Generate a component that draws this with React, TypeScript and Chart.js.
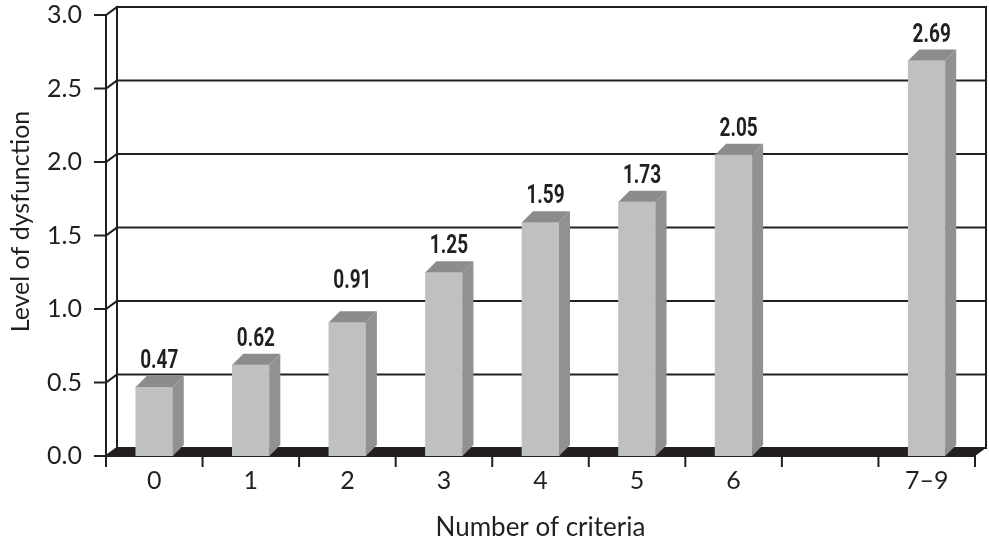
import { useEffect, useRef } from "react";
import { Chart, registerables } from "chart.js";

Chart.register(...registerables);

// Mean level of dysfunction by number of criteria met
const categories = ["0", "1", "2", "3", "4", "5", "6", "", "7–9"];
const dysfunction: (number | null)[] = [0.47, 0.62, 0.91, 1.25, 1.59, 1.73, 2.05, null, 2.69];
const yTickValues = [0, 0.5, 1, 1.5, 2, 2.5, 3];
const yTitle = "Level of dysfunction";
const xTitle = "Number of criteria";

const INK = "#231f20";
const FRONT = "#bfc0c2";
const SIDE = "#909193";
const TOP = "#8b8c8e";

// depth offsets of the box walls and of each bar
const WALL_DX = 11;
const WALL_DY = -8;
const BAR_DX = 11;
const BAR_DY = -11;

const LABEL_GAP = 19; // value label baseline above the bar's value
const LABEL_H = 18; // digit height of the value labels

const line = (ctx: CanvasRenderingContext2D, x1: number, y1: number, x2: number, y2: number) => {
  ctx.beginPath();
  ctx.moveTo(x1, y1);
  ctx.lineTo(x2, y2);
  ctx.stroke();
};

const poly = (ctx: CanvasRenderingContext2D, pts: number[][], fill: string) => {
  ctx.beginPath();
  ctx.moveTo(pts[0][0], pts[0][1]);
  for (let i = 1; i < pts.length; i++) ctx.lineTo(pts[i][0], pts[i][1]);
  ctx.closePath();
  ctx.fillStyle = fill;
  ctx.fill();
};

const box3d = {
  id: "box3d",
  beforeDatasetsDraw(chart: any) {
    const { ctx, chartArea: a, scales } = chart;
    const ys = scales.y;
    const xs = scales.x;
    const y0 = ys.getPixelForValue(0);
    const yMax = ys.getPixelForValue(yTickValues[yTickValues.length - 1]);
    ctx.save();
    ctx.strokeStyle = INK;
    ctx.lineWidth = 2;
    ctx.lineCap = "square";

    // back-wall gridlines, left-wall connectors and tick marks
    yTickValues.forEach((v) => {
      const py = ys.getPixelForValue(v);
      line(ctx, a.left + WALL_DX, py + WALL_DY, a.right + WALL_DX, py + WALL_DY);
      line(ctx, a.left, py, a.left + WALL_DX, py + WALL_DY);
      line(ctx, a.left - 11, py, a.left, py);
    });

    // vertical edges of the box
    line(ctx, a.left, yMax, a.left, y0 + 10);
    line(ctx, a.left + WALL_DX, yMax + WALL_DY, a.left + WALL_DX, y0 + WALL_DY);
    line(ctx, a.right + WALL_DX, yMax + WALL_DY, a.right + WALL_DX, y0 + WALL_DY);

    // floor
    poly(
      ctx,
      [
        [a.left, y0],
        [a.right, y0],
        [a.right + WALL_DX, y0 + WALL_DY],
        [a.left + WALL_DX, y0 + WALL_DY],
      ],
      INK
    );
    line(ctx, a.left, y0, a.right, y0);

    // category boundary ticks below the floor
    for (let i = 0; i <= categories.length; i++) {
      const px = xs.getPixelForValue(i - 0.5);
      line(ctx, px, y0, px, y0 + 10);
    }
    ctx.restore();
  },
  afterDatasetsDraw(chart: any) {
    const { ctx, scales, chartArea: a } = chart;
    const ys = scales.y;
    const meta = chart.getDatasetMeta(0);
    const gridBack = yTickValues.map((v) => ys.getPixelForValue(v) + WALL_DY);
    ctx.save();
    meta.data.forEach((el: any, i: number) => {
      const v = dysfunction[i];
      if (v === null || v === undefined) return;
      const { x, y, base, width } = el.getProps(["x", "y", "base", "width"], true);
      const xL = x - width / 2;
      const xR = x + width / 2;
      // side face
      poly(
        ctx,
        [
          [xR, y],
          [xR + BAR_DX, y + BAR_DY],
          [xR + BAR_DX, base + BAR_DY],
          [xR, base],
        ],
        SIDE
      );
      // top face
      poly(
        ctx,
        [
          [xL, y],
          [xL + BAR_DX, y + BAR_DY],
          [xR + BAR_DX, y + BAR_DY],
          [xR, y],
        ],
        TOP
      );
      // value label, condensed bold; lifted clear of a gridline it would cross
      let by = ys.getPixelForValue(v) - LABEL_GAP;
      gridBack.forEach((gy) => {
        if (gy > by - LABEL_H - 3 && gy < by + 3) by = gy - 13;
      });
      ctx.save();
      ctx.translate(x + 5, by);
      ctx.scale(0.76, 1);
      ctx.font = "bold 25px Roboto";
      ctx.fillStyle = INK;
      ctx.textAlign = "center";
      ctx.textBaseline = "alphabetic";
      ctx.fillText(v.toFixed(2), 0, 0);
      ctx.restore();
    });

    // y-axis title, rotated, a little above the middle of the axis
    ctx.save();
    ctx.translate(21, (a.top + a.bottom) / 2 - 14);
    ctx.rotate(-Math.PI / 2);
    ctx.font = "25px Lato";
    ctx.fillStyle = INK;
    ctx.textAlign = "center";
    ctx.textBaseline = "middle";
    ctx.fillText(yTitle, 0, 0);
    ctx.restore();

    ctx.restore();
  },
};

export default function App() {
  const canvasRef = useRef<HTMLCanvasElement | null>(null);

  useEffect(() => {
    if (!canvasRef.current) return;
    const chart = new Chart(canvasRef.current, {
      type: "bar",
      data: {
        labels: categories,
        datasets: [
          {
            data: dysfunction,
            backgroundColor: FRONT,
            borderWidth: 0,
            barThickness: 37,
          },
        ],
      },
      options: {
        animation: false,
        responsive: true,
        maintainAspectRatio: false,
        devicePixelRatio: 1,
        layout: { padding: { left: 0, right: 14, top: 15, bottom: 0 } },
        plugins: {
          legend: { display: false },
          tooltip: { enabled: false },
        },
        scales: {
          x: {
            grid: { display: false, drawTicks: false },
            border: { display: false },
            ticks: {
              color: INK,
              font: { family: "Lato", size: 25 },
              padding: 10,
              maxRotation: 0,
              autoSkip: false,
            },
            title: {
              display: true,
              text: xTitle,
              color: INK,
              font: { family: "Lato", size: 26 },
              padding: { top: 0, bottom: 0 },
            },
            afterFit: (s: any) => {
              s.height = 87;
            },
          },
          y: {
            min: 0,
            max: 3,
            grid: { display: false, drawTicks: true, tickLength: 24 },
            border: { display: false },
            afterBuildTicks: (s: any) => {
              s.ticks = yTickValues.map((value) => ({ value }));
            },
            ticks: {
              color: INK,
              font: { family: "Lato", size: 25 },
              padding: 0,
              callback: (value: any) => Number(value).toFixed(1),
            },
            afterFit: (s: any) => {
              s.width = 106;
            },
          },
        },
      },
      plugins: [box3d],
    });
    return () => chart.destroy();
  }, []);

  return (
    <div style={{ position: "absolute", left: 0, top: 0, width: 989, height: 543, background: "#fff" }}>
      <canvas ref={canvasRef} style={{ display: "block" }} />
    </div>
  );
}
